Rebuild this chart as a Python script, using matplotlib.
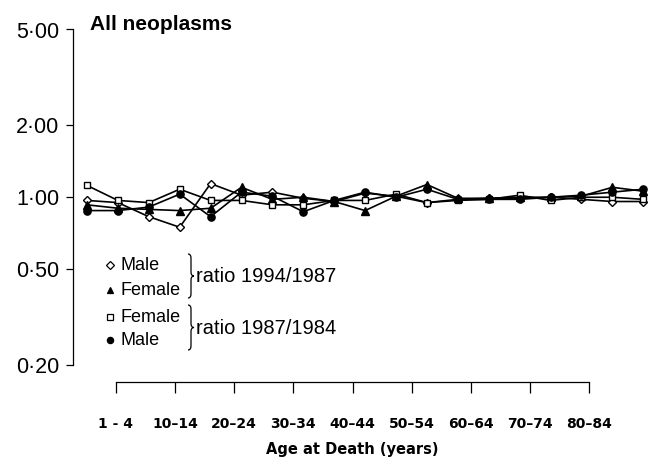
import numpy as np
import matplotlib.pyplot as plt
from matplotlib.lines import Line2D
from matplotlib.path import Path
from matplotlib.patches import PathPatch

# age groups (data points) and the labelled ticks of the age axis
ages = ["<1", "1-4", "5-9", "10-14", "15-19", "20-24", "25-29", "30-34", "35-39",
        "40-44", "45-49", "50-54", "55-59", "60-64", "65-69", "70-74", "75-79",
        "80-84", "85+"]
tick_labels = ["1 - 4", "10\u201314", "20\u201324", "30\u201334", "40\u201344",
               "50\u201354", "60\u201364", "70\u201374", "80\u201384"]

# ratio 1994/1987
male_94 = [0.97, 0.95, 0.83, 0.75, 1.14, 1.02, 1.05, 0.99, 0.96, 1.04,
           1.01, 0.95, 0.98, 0.99, 0.99, 1.00, 0.98, 0.96, 0.96]
female_94 = [0.93, 0.90, 0.89, 0.88, 0.90, 1.10, 0.98, 1.00, 0.96, 0.88,
             1.01, 1.13, 0.99, 0.99, 1.00, 1.00, 1.01, 1.10, 1.06]
# ratio 1987/1984
female_87 = [1.12, 0.97, 0.95, 1.08, 0.97, 0.97, 0.93, 0.93, 0.97, 0.97,
             1.03, 0.95, 0.97, 0.98, 1.02, 0.97, 1.00, 1.00, 0.98]
male_87 = [0.88, 0.88, 0.91, 1.03, 0.83, 1.05, 1.01, 0.87, 0.97, 1.05,
           1.00, 1.08, 0.98, 0.98, 0.98, 1.00, 1.02, 1.05, 1.08]

yticks = [0.2, 0.5, 1, 2, 5]
ylabels = ["0\u00b720", "0\u00b750", "1\u00b700", "2\u00b700", "5\u00b700"]

W, H = 648, 461


def fp(x, y):
    return x / W, 1 - y / H


fig = plt.figure(figsize=(6.48, 4.61), dpi=100)
ax = fig.add_axes([73 / W, 1 - 365 / H, (646 - 73) / W, (365 - 29.5) / H])
ax.set_yscale("log")
ax.set_ylim(0.2, 5)
ax.set_xlim((73 - 87) / 30.9, (646 - 87) / 30.9)

x = np.arange(len(ages))
styles = [
    (male_94, "D", "white", 4.4),
    (female_94, "^", "black", 5.2),
    (female_87, "s", "white", 4.6),
    (male_87, "o", "black", 5.2),
]
for vals, mk, fc, ms in styles:
    ax.plot(x, vals, color="black", lw=1.2, marker=mk, markersize=ms,
            markerfacecolor=fc, markeredgecolor="black", markeredgewidth=1.0,
            clip_on=False)

for s in ["top", "right", "bottom"]:
    ax.spines[s].set_visible(False)
ax.spines["left"].set_linewidth(0.9)
ax.set_xticks([])
ax.set_yticks(yticks)
ax.set_yticklabels(ylabels, family="Liberation Sans")
ax.yaxis.set_minor_locator(plt.NullLocator())
ax.tick_params(axis="y", direction="out", length=5, width=0.9, pad=5,
               labelsize=15.5)

fig.text(*fp(90, 30), "All neoplasms", fontsize=15, fontweight="bold",
         family="Liberation Sans", va="baseline")

# age axis, drawn detached below the plot
ax2 = fig.add_axes([116 / W, 1 - 382 / H, (589 - 116) / W, 0.0001])
ax2.patch.set_visible(False)
for s in ["top", "right", "left"]:
    ax2.spines[s].set_visible(False)
ax2.spines["bottom"].set_linewidth(0.9)
ax2.set_xlim(0, len(tick_labels) - 1)
ax2.set_yticks([])
ax2.set_xticks(range(len(tick_labels)))
ax2.set_xticklabels(tick_labels, fontweight="bold")
ax2.tick_params(axis="x", direction="out", length=8, width=0.9, pad=17,
                labelsize=10)
ax2.set_xlabel("Age at Death (years)", fontsize=10.5, fontweight="bold",
               labelpad=8)

# legend with braces
rows = [(265, "D", "white", "Male"), (290, "^", "black", "Female"),
        (317, "s", "white", "Female"), (340, "o", "black", "Male")]
for yy, mk, fc, lab in rows:
    fig.add_artist(Line2D([110 / W], [1 - yy / H], marker=mk, markersize=4.5,
                          markerfacecolor=fc, markeredgecolor="black",
                          markeredgewidth=0.9, transform=fig.transFigure))
    fig.text(*fp(121, yy), lab, fontsize=13, family="Liberation Sans",
             va="center")


def brace(x0, y0, y1, w):
    ym = (y0 + y1) / 2
    pts = [(x0, y0), (x0 + w / 2, y0), (x0 + w / 2, y0 + 4),
           (x0 + w / 2, ym - 4), (x0 + w / 2, ym), (x0 + w, ym),
           (x0 + w / 2, ym), (x0 + w / 2, ym + 4),
           (x0 + w / 2, y1 - 4), (x0 + w / 2, y1), (x0, y1)]
    codes = [Path.MOVETO, Path.CURVE3, Path.CURVE3, Path.LINETO, Path.CURVE3,
             Path.CURVE3, Path.CURVE3, Path.CURVE3, Path.LINETO, Path.CURVE3,
             Path.CURVE3]
    p = Path([fp(a, b) for a, b in pts], codes)
    fig.add_artist(PathPatch(p, fill=False, lw=0.9, edgecolor="black",
                             transform=fig.transFigure))


brace(188, 254, 298, 6)
brace(188, 305, 350, 6)
fig.text(*fp(196, 277), "ratio 1994/1987", fontsize=14.5,
         family="Liberation Sans", va="center")
fig.text(*fp(196, 328), "ratio 1987/1984", fontsize=14.5,
         family="Liberation Sans", va="center")

fig.savefig("out.png", dpi=100)
